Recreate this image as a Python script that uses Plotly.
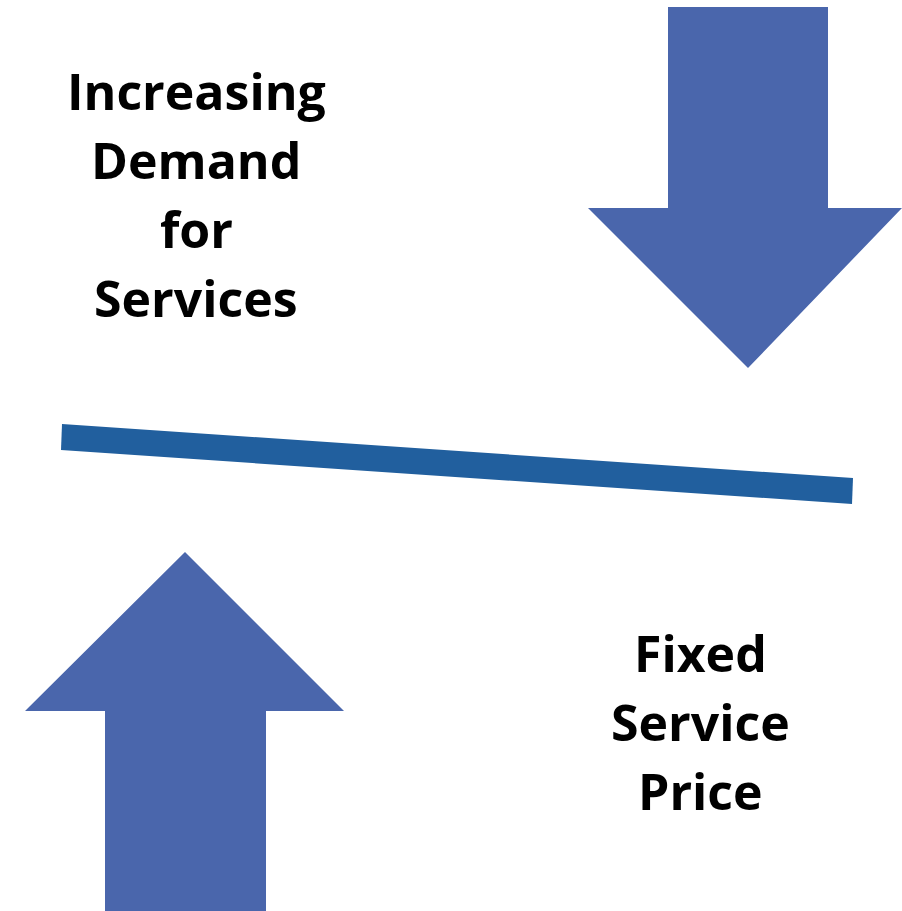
import plotly.graph_objects as go

W, H = 902, 911

# Shapes of the diagram (pixel-space coordinates, y downward)
down_arrow_x = [668, 828, 828, 902, 748, 588, 668, 668]
down_arrow_y = [7, 7, 208, 208, 368, 208, 208, 7]
up_arrow_x = [105, 266, 266, 344, 185, 25, 105, 105]
up_arrow_y = [911, 911, 711, 711, 552, 711, 711, 911]
bar_x = [62, 853, 852, 61, 62]
bar_y = [424, 478, 504, 450, 424]

left_lines = ["Increasing", "Demand", "for", "Services"]
left_line_y = [91, 160, 229, 298]
left_x = 196
right_lines = ["Fixed", "Service", "Price"]
right_line_y = [653, 722, 791]
right_x = 700

ARROW = "#4A66AC"
BAR = "#215F9E"

fig = go.Figure()
fig.add_trace(go.Scatter(x=down_arrow_x, y=down_arrow_y, mode="lines", fill="toself",
                         fillcolor=ARROW, line=dict(width=0, color=ARROW), hoverinfo="skip"))
fig.add_trace(go.Scatter(x=up_arrow_x, y=up_arrow_y, mode="lines", fill="toself",
                         fillcolor=ARROW, line=dict(width=0, color=ARROW), hoverinfo="skip"))
fig.add_trace(go.Scatter(x=bar_x, y=bar_y, mode="lines", fill="toself",
                         fillcolor=BAR, line=dict(width=0, color=BAR), hoverinfo="skip"))

font = dict(family="Open Sans", size=50, color="black", weight="bold")
for t, y in zip(left_lines, left_line_y):
    fig.add_annotation(x=left_x, y=y, text=t, showarrow=False, xanchor="center",
                       yanchor="middle", font=font)
for t, y in zip(right_lines, right_line_y):
    fig.add_annotation(x=right_x, y=y, text=t, showarrow=False, xanchor="center",
                       yanchor="middle", font=font)

fig.update_layout(
    width=W, height=H, margin=dict(l=0, r=0, t=0, b=0),
    paper_bgcolor="white", plot_bgcolor="white", showlegend=False,
    xaxis=dict(range=[0, W], visible=False, fixedrange=True),
    yaxis=dict(range=[H, 0], visible=False, fixedrange=True),
)
fig.write_html("out.html", config={"displayModeBar": False},
               post_script="document.body.style.margin='0';")
